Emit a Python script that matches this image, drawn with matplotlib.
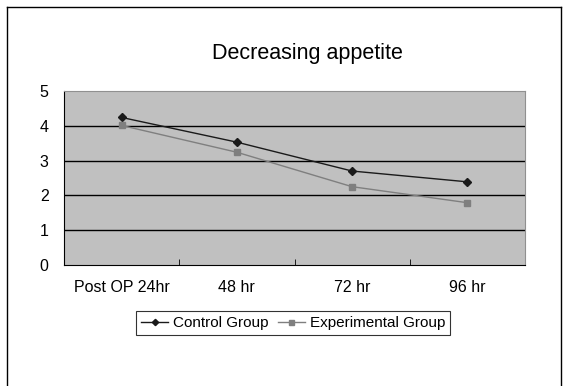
import numpy as np
import matplotlib.pyplot as plt
from matplotlib.lines import Line2D

categories = ["Post OP 24hr", "48 hr", "72 hr", "96 hr"]
control = [4.24, 3.53, 2.70, 2.39]
experimental = [4.01, 3.24, 2.25, 1.79]

plt.rcParams['font.family'] = ['Liberation Sans', 'DejaVu Sans']

fig = plt.figure(figsize=(5.69, 3.86), dpi=100)

# outer frame (bottom edge runs off the picture)
for xs, ys in [([7, 7], [386, 7]), ([7, 561], [7, 7]), ([561, 561], [7, 386])]:
    fig.add_artist(Line2D(np.array(xs) / 569, 1 - np.array(ys) / 386,
                          color="black", linewidth=1.0))

ax = fig.add_axes([64 / 569, 121 / 386, 461 / 569, 174 / 386])
ax.set_facecolor("#c0c0c0")

x = np.arange(len(categories))
ax.plot(x, control, color="#1a1a1a", linewidth=1.0, marker="D", markersize=4,
        label="Control Group")
ax.plot(x, experimental, color="#7f7f7f", linewidth=1.0, marker="s", markersize=4.5,
        label="Experimental Group")

for v in [1, 2, 3, 4]:
    ax.axhline(v, color="black", linewidth=1.0, zorder=1)

ax.set_xlim(-0.5, len(categories) - 0.5)
ax.set_ylim(0, 5)
ax.set_yticks([0, 1, 2, 3, 4, 5])
ax.set_xticks(x)
ax.set_xticklabels(categories)
ax.set_xticks(np.arange(len(categories) + 1) - 0.5, minor=True)
ax.tick_params(axis="x", which="major", length=0, pad=11, labelsize=11.5)
ax.tick_params(axis="x", which="minor", direction="in", length=4, color="black")
ax.tick_params(axis="y", length=0, pad=11, labelsize=11.5)

ax.spines["left"].set_color("black")
ax.spines["bottom"].set_color("black")
ax.spines["top"].set_color("#909090")
ax.spines["right"].set_color("#909090")

fig.text(307 / 569, 1 - 53 / 386, "Decreasing appetite", ha="center", va="center",
         fontsize=15.5)

leg = fig.legend(loc="center", bbox_to_anchor=(293 / 569, 1 - 323 / 386), ncol=2,
                 frameon=True, fancybox=False, edgecolor="black", fontsize=11,
                 handlelength=1.8, handletextpad=0.3, columnspacing=0.6,
                 borderpad=0.3, markerscale=0.8)
leg.get_frame().set_linewidth(0.8)

fig.savefig("out.png", dpi=100)
